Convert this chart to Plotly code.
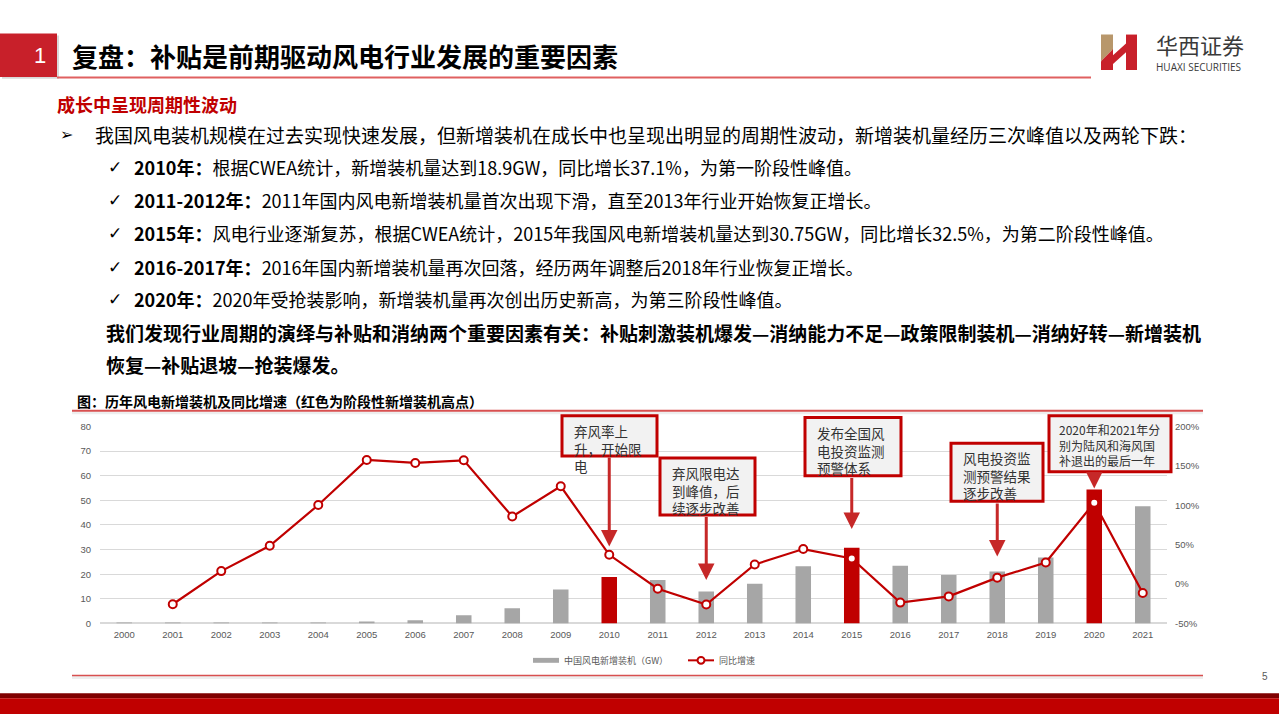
import plotly.graph_objects as go

W, H = 1279, 719

# ---------------- data ----------------
years = [str(y) for y in range(2000, 2022)]
new_capacity_gw = [0.05, 0.04, 0.07, 0.1, 0.2, 0.5, 1.3, 3.3, 6.2, 13.8, 18.9, 17.6,
                   13.0, 16.1, 23.2, 30.75, 23.4, 19.7, 21.1, 26.8, 54.4, 47.6]
yoy_growth_pct = [None, -25.7, 16.4, 48.6, 100.3, 157.5, 153.7, 157.0, 85.7, 124.0,
                  37.1, -6.0, -26.0, 24.8, 44.4, 32.5, -23.6, -15.7, 8.1, 27.3, 103.2, -11.5]
peak_years = ["2010", "2015", "2020"]
left_ticks = [0, 10, 20, 30, 40, 50, 60, 70, 80]
right_ticks = [-50, 0, 50, 100, 150, 200]
right_tick_labels = ["-50%", "0%", "50%", "100%", "150%", "200%"]

bar_name = "中国风电新增装机（GW）"
line_name = "同比增速"

RED = "#c00000"
GRAY = "#a6a6a6"
FONT_CJK = "Noto Sans CJK SC, DejaVu Sans, sans-serif"
FONT_LAT = "Liberation Sans, Arial, sans-serif"


def px(x):
    return x / W


def py(y):
    return 1 - y / H


fig = go.Figure()

bar_colors = [RED if y in peak_years else GRAY for y in years]
fig.add_trace(go.Bar(x=years, y=new_capacity_gw, name=bar_name, marker_color=bar_colors,
                     marker_line_width=0, yaxis="y", showlegend=False))
fig.add_trace(go.Scatter(x=years, y=yoy_growth_pct, name=line_name, mode="lines+markers",
                         line=dict(color=RED, width=2.2),
                         marker=dict(size=8, color="white", line=dict(color=RED, width=2)),
                         yaxis="y2", showlegend=False))

shapes = []
ann = []


def rect(x0, y0, x1, y1, fill, line_color=None, lw=0):
    shapes.append(dict(type="rect", xref="paper", yref="paper", x0=px(x0), x1=px(x1),
                       y0=py(y1), y1=py(y0), fillcolor=fill,
                       line=dict(color=line_color or fill, width=lw), layer="above"))


def hline(x0, x1, y, color, w):
    shapes.append(dict(type="line", xref="paper", yref="paper", x0=px(x0), x1=px(x1),
                       y0=py(y), y1=py(y), line=dict(color=color, width=w), layer="above"))


def path(d_pts, fill):
    d = "M " + " L ".join(f"{px(x)},{py(y)}" for x, y in d_pts) + " Z"
    shapes.append(dict(type="path", xref="paper", yref="paper", path=d, fillcolor=fill,
                       line=dict(width=0), layer="above"))


def text(x, y, t, size, color="#000000", family=FONT_CJK, xanchor="left", yanchor="middle",
         align="left"):
    ann.append(dict(xref="paper", yref="paper", x=px(x), y=py(y), text=t, showarrow=False,
                    xanchor=xanchor, yanchor=yanchor, align=align,
                    font=dict(size=size, color=color, family=family)))


# ---------------- header ----------------
rect(2, 30, 59, 74, "#d9d9d9")
rect(0, 28, 57, 72, "#c8202a")
text(40, 50, "1", 22, "white", FONT_LAT, xanchor="center")
text(70, 50, "<b>复盘：补贴是前期驱动风电行业发展的重要因素</b>", 26, "#000000")
hline(57, 1091, 72.5, "#e06060", 2)

# logo
path([(1101, 29), (1113, 29), (1113, 44), (1101, 56)], "#b8976b")
path([(1101, 56), (1113, 44), (1113, 65), (1101, 65)], "#c8202a")
path([(1113, 50), (1126, 38), (1126, 47), (1113, 59)], "#c8202a")
path([(1126, 29), (1137, 29), (1137, 65), (1126, 65)], "#c8202a")
text(1200, 39, "华西证券", 22, "#3a3a3a", xanchor="center")
text(1198, 62, "HUAXI SECURITIES", 10, "#3a3a3a", "Open Sans, sans-serif", xanchor="center")

# ---------------- body text ----------------
text(55, 100, "<b>成长中呈现周期性波动</b>", 18, RED)
text(58, 131, "➢", 16, "#000000", "DejaVu Sans")
text(93, 131, "我国风电装机规模在过去实现快速发展，但新增装机在成长中也呈现出明显的周期性波动，新增装机量经历三次峰值以及两轮下跌：", 19)
lines = [
    (164, "<b>2010年：</b>根据CWEA统计，新增装机量达到18.9GW，同比增长37.1%，为第一阶段性峰值。"),
    (197, "<b>2011-2012年：</b>2011年国内风电新增装机量首次出现下滑，直至2013年行业开始恢复正增长。"),
    (231, "<b>2015年：</b>风电行业逐渐复苏，根据CWEA统计，2015年我国风电新增装机量达到30.75GW，同比增长32.5%，为第二阶段性峰值。"),
    (265, "<b>2016-2017年：</b>2016年国内新增装机量再次回落，经历两年调整后2018年行业恢复正增长。"),
    (298, "<b>2020年：</b>2020年受抢装影响，新增装机量再次创出历史新高，为第三阶段性峰值。"),
]
for y, t in lines:
    text(106, y, "✓", 17, "#000000", "DejaVu Sans")
    text(132, y, t, 18)
text(104, 332, "<b>我们发现行业周期的演绎与补贴和消纳两个重要因素有关：补贴刺激装机爆发—消纳能力不足—政策限制装机—消纳好转—新增装机</b>", 19)
text(104, 364, "<b>恢复—补贴退坡—抢装爆发。</b>", 19)

# ---------------- chart frame ----------------
text(75, 401, "<b>图：历年风电新增装机及同比增速（红色为阶段性新增装机高点）</b>", 14)
hline(72, 1203, 413, "#eeeeee", 3)
hline(72, 1203, 411, "#d85050", 2)
hline(72, 1203, 682, "#eeeeee", 3)
hline(72, 1203, 680, "#d85050", 1.5)

# legend
rect(533, 662, 559, 667, GRAY)
text(562, 664.5, bar_name, 9, "#595959")
hline(688, 714, 664.5, RED, 2)
shapes.append(dict(type="circle", xref="paper", yref="paper", x0=px(697.5), x1=px(704.5),
                   y0=py(668), y1=py(661), fillcolor="white", line=dict(color=RED, width=2),
                   layer="above"))
text(717, 664.5, line_name, 9, "#595959")

# bottom band
rect(0, 698, W, 703, "#7f0000")
rect(0, 703, W, H, "#c00000")
text(1265, 681, "5", 10, "#595959", FONT_LAT, xanchor="center")

# ---------------- callout boxes ----------------
boxes = [
    (562, 416, 657, 457, 572, "弃风率上<br>升，开始限<br>电", "2010", 549, 13.5),
    (660, 459, 755, 517, 670, "弃风限电达<br>到峰值，后<br>续逐步改善", "2012", 583, 13.5),
    (805, 418, 901, 477, 815, "发布全国风<br>电投资监测<br>预警体系", "2015", 531, 13.5),
    (951, 444, 1043, 503, 961, "风电投资监<br>测预警结果<br>逐步改善", "2018", 559, 13.5),
    (1049, 416, 1171, 473, 1057, "2020年和2021年分<br>别为陆风和海风国<br>补退出的最后一年", "2020", 490, 12),
]
for x0, y0, x1, y1, tx, t, yr, head_y, fs in boxes:
    rect(x0, y0, x1, y1, "#f2f2f2", RED, 3)
    text(tx, y0 + 3, t, fs, "#333333", yanchor="top")
    ann.append(dict(xref="x", yref="paper", x=years.index(yr), y=py(head_y), ax=0,
                    ay=-(head_y - y1 - 1.5), axref="pixel", ayref="pixel", showarrow=True,
                    arrowhead=2, arrowsize=1.1, arrowwidth=3, arrowcolor="#c62828", text=""))

fig.update_layout(
    width=W, height=H,
    margin=dict(l=0, r=0, t=0, b=0),
    paper_bgcolor="white", plot_bgcolor="white",
    bargap=0.68,
    shapes=shapes, annotations=ann,
    xaxis=dict(domain=[px(100), px(1167)], type="category", range=[-0.5, len(years) - 0.5],
               autorange=False, showgrid=False, showline=False, ticks="",
               ticklabelstandoff=4,
               tickfont=dict(size=9.5, color="#595959", family=FONT_LAT)),
    yaxis=dict(domain=[py(627), py(427)], range=[0, 80], autorange=False, tickvals=left_ticks,
               showgrid=True, gridcolor="#d9d9d9", gridwidth=1, zeroline=True,
               zerolinecolor="#d9d9d9", showline=False, ticks="", ticklabelstandoff=8,
               tickfont=dict(size=9.5, color="#595959", family=FONT_LAT)),
    yaxis2=dict(overlaying="y", side="right", range=[-50, 200], autorange=False,
                tickmode="array", tickvals=right_ticks, ticktext=right_tick_labels,
                showgrid=False, zeroline=False, showline=False, ticks="", ticklabelstandoff=7,
                tickfont=dict(size=9.5, color="#595959", family=FONT_LAT)),
    showlegend=False,
)

fig.write_html("out.html", config={"displayModeBar": False},
               post_script="document.body.style.margin='0';document.body.style.overflow='hidden';")
